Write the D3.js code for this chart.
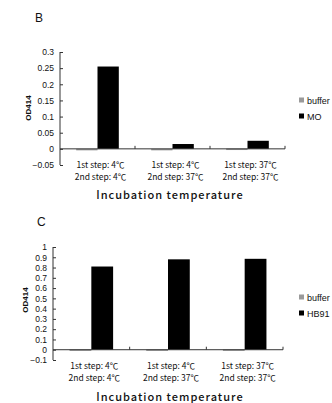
<!DOCTYPE html>
<html>
<head>
<meta charset="UTF-8">
<style>
  body { margin: 0; background: #ffffff; }
  svg { display: block; }
  text { fill: #111; }
</style>
</head>
<body>
<svg></svg>
<script src="https://d3js.org/d3.v7.min.js"></script>
<script>
// values
let categories = [
  ["1st step: 4℃", "2nd step: 4℃"],
  ["1st step: 4℃", "2nd step: 37℃"],
  ["1st step: 37℃", "2nd step: 37℃"]
];
let seriesNames = ["buffer", "sample"];
let bufferB = [-0.004, -0.004, 0.001];
let moB = [0.255, 0.015, 0.025];
let ticksB = [-0.05, 0, 0.05, 0.1, 0.15, 0.2, 0.25, 0.3];
let bufferC = [0.003, 0.003, 0.003];
let hb91C = [0.81, 0.88, 0.885];
let ticksC = [-0.1, 0, 0.1, 0.2, 0.3, 0.4, 0.5, 0.6, 0.7, 0.8, 0.9, 1];

let width = 332, height = 403;
let svg = d3.select("svg").attr("width", width).attr("height", height);

let colors = {buffer: "#9a9a9a", sample: "#000000"};

function drawPanel(p) {
  let g = svg.append("g");

  let y = d3.scaleLinear().domain(p.domain).range(p.yRange);
  let x0 = d3.scaleBand().domain(d3.range(categories.length)).range(p.xRange);
  let x1 = d3.scaleBand().domain(seriesNames).range([0, x0.bandwidth()])
    .paddingInner(0).paddingOuter(0.76);

  let rows = categories.map((c, i) => ({i: i, buffer: p.buffer[i], sample: p.sample[i]}));

  // bars
  g.selectAll("g.cat").data(rows).enter().append("g")
    .attr("transform", d => `translate(${x0(d.i)},0)`)
    .selectAll("rect")
    .data(d => seriesNames.map(k => ({k: k, v: d[k]})))
    .enter().append("rect")
      .attr("x", d => x1(d.k))
      .attr("width", x1.bandwidth())
      .attr("y", d => d.v >= 0 ? y(d.v) : y(0))
      .attr("height", d => Math.max(1.5, Math.abs(y(d.v) - y(0))))
      .attr("fill", d => colors[d.k]);

  // y axis with inside ticks
  let yAxis = d3.axisLeft(y).tickValues(p.ticks).tickSize(-3).tickPadding(6)
    .tickFormat(d => d3.format("")(+d.toFixed(2)));
  let ya = g.append("g").attr("transform", `translate(${p.xRange[0]},0)`).call(yAxis);
  ya.select(".domain").attr("stroke", "#333").attr("d", `M0,${p.yRange[1]}V${p.yRange[0]}`);
  ya.selectAll(".tick line").attr("stroke", "#333");
  ya.selectAll(".tick text").attr("font-family", "Liberation Sans, Arial, sans-serif")
    .attr("font-size", 8.5).style("fill", "#111");

  // x axis at zero with upward category ticks
  let xa = g.append("g").attr("transform", `translate(0,${y(0)})`);
  xa.append("line").attr("x1", p.xRange[0]).attr("x2", p.xRange[1])
    .attr("stroke", "#333");
  xa.selectAll("line.tk").data(d3.range(1, categories.length + 1)).enter().append("line")
    .attr("x1", d => x0(d - 1) + x0.bandwidth()).attr("x2", d => x0(d - 1) + x0.bandwidth())
    .attr("y1", 0).attr("y2", -3).attr("stroke", "#333");

  // category labels
  categories.forEach((c, i) => {
    c.forEach((line, j) => {
      g.append("text")
        .attr("x", x0(i) + x0.bandwidth() / 2 + 3)
        .attr("y", p.labelY + j * 12)
        .attr("text-anchor", "middle")
        .attr("font-family", "Noto Sans CJK JP, sans-serif")
        .attr("font-size", 8.5)
        .text(line);
    });
  });

  // axis titles
  g.append("text")
    .attr("x", 170).attr("y", p.titleY)
    .attr("text-anchor", "middle")
    .attr("font-family", "Noto Sans CJK JP, sans-serif")
    .attr("font-size", 11).attr("font-weight", 500)
    .attr("letter-spacing", 1)
    .text("Incubation temperature");

  g.append("text")
    .attr("transform", `translate(${p.odX},${p.odY}) rotate(-90)`)
    .attr("text-anchor", "middle")
    .attr("font-family", "Liberation Sans, Arial, sans-serif")
    .attr("font-size", 8).attr("font-weight", "bold")
    .text("OD414");

  g.append("text")
    .attr("x", p.letterX).attr("y", p.letterY)
    .attr("font-family", "Liberation Sans, Arial, sans-serif")
    .attr("font-size", 12)
    .text(p.letter);

  // legend
  let lg = g.append("g").attr("transform", `translate(299,${p.legendY})`);
  let legendItems = ["buffer", p.sampleName];
  legendItems.forEach((name, i) => {
    lg.append("rect").attr("x", 0).attr("y", i * 16 - 3.5)
      .attr("width", 5).attr("height", 5)
      .attr("fill", colors[seriesNames[i]]);
    lg.append("text").attr("x", 8).attr("y", i * 16 + 3)
      .attr("font-family", "Liberation Sans, Arial, sans-serif")
      .attr("font-size", 9)
      .text(name);
  });
}

drawPanel({
  letter: "B", letterX: 35, letterY: 22,
  domain: [-0.05, 0.3], yRange: [165, 52], xRange: [60, 285],
  ticks: ticksB, buffer: bufferB, sample: moB, sampleName: "MO",
  labelY: 168, titleY: 199, odX: 31, odY: 108, legendY: 101
});

drawPanel({
  letter: "C", letterX: 37, letterY: 226,
  domain: [-0.1, 1], yRange: [360, 247], xRange: [53, 283],
  ticks: ticksC, buffer: bufferC, sample: hb91C, sampleName: "HB91",
  labelY: 369, titleY: 401, odX: 28, odY: 300, legendY: 298
});
</script>
</body>
</html>
